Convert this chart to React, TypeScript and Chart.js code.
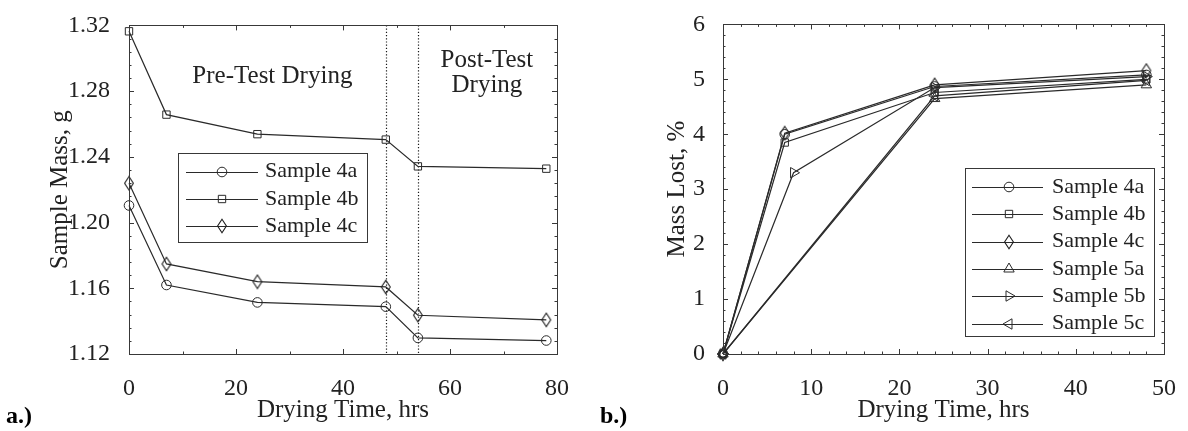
import React, { useEffect, useRef } from 'react';
import { Chart, registerables } from 'chart.js';
import { drawPoint } from 'chart.js/helpers';

Chart.register(...registerables);

const FONT = "'Liberation Serif', 'Times New Roman', serif";
const INK = '#222222';
const LINE = '#2a2a2a';
const FRAME = '#383838';

// ---------- Panel a: sample mass ----------
const timeA = [0, 7, 24, 48, 54, 78];
const mass4a = [1.2104, 1.162, 1.1514, 1.1488, 1.1298, 1.1282];
const mass4b = [1.3164, 1.2657, 1.2538, 1.2505, 1.2342, 1.2328];
const mass4c = [1.2239, 1.1748, 1.164, 1.1608, 1.1436, 1.1408];
const xTicksA = [0, 20, 40, 60, 80];
const yTicksA = [1.12, 1.16, 1.2, 1.24, 1.28, 1.32];
const dividerTimes = [48, 54];

// ---------- Panel b: mass lost ----------
const time4 = [0, 7, 24, 48];
const lost4a = [0, 4.0, 4.87, 5.08];
const lost4b = [0, 3.85, 4.76, 5.0];
const lost4c = [0, 4.02, 4.9, 5.16];
const time5a = [0, 24, 48];
const lost5a = [0, 4.65, 4.9];
const time5b = [0, 8, 24, 48];
const lost5b = [0, 3.3, 4.85, 5.05];
const time5c = [0, 24, 48];
const lost5c = [0, 4.7, 4.98];
const xTicksB = [0, 10, 20, 30, 40, 50];
const yTicksB = [0, 1, 2, 3, 4, 5, 6];

const pts = (xs: number[], ys: number[]) => xs.map((x, i) => ({ x, y: ys[i] }));

// tall, narrow open diamond marker (MATLAB-like)
function makeDiamond(): HTMLCanvasElement {
  const c = document.createElement('canvas');
  c.width = 12;
  c.height = 16;
  const g = c.getContext('2d')!;
  g.strokeStyle = '#1e1e1e';
  g.lineWidth = 1.1;
  g.beginPath();
  g.moveTo(6, 1.3);
  g.lineTo(10.4, 8);
  g.lineTo(6, 14.7);
  g.lineTo(1.6, 8);
  g.closePath();
  g.stroke();
  return c;
}

function ds(label: string, xs: number[], ys: number[], pointStyle: any, radius: number, rotation = 0) {
  return {
    label,
    data: pts(xs, ys),
    borderColor: LINE,
    borderWidth: 1.2,
    pointStyle,
    pointRotation: rotation,
    pointRadius: radius,
    pointBorderWidth: 1,
    pointBorderColor: LINE,
    pointBackgroundColor: 'rgba(0,0,0,0)',
    fill: false,
    tension: 0,
    clip: false as any,
  };
}

type Ann = { text: string; x: number; y: number };

interface FrameCfg {
  xMinor: number;
  yMinor: number;
  dividers?: number[];
  anns?: Ann[];
  legend: { left: number; top: number; width: number; height: number; firstRow: number; rowGap: number; lx0: number; lx1: number; mx: number; tx: number };
  panel: string;
}

function framePlugin(cfg: FrameCfg) {
  return {
    id: 'frame',
    beforeDatasetsDraw(chart: any) {
      const { ctx, chartArea: a, scales } = chart;
      if (cfg.dividers) {
        ctx.save();
        ctx.strokeStyle = '#1a1a1a';
        ctx.lineWidth = 1.2;
        ctx.setLineDash([1.2, 2]);
        for (const d of cfg.dividers) {
          const px = Math.round(scales.x.getPixelForValue(d)) + 0.5;
          ctx.beginPath();
          ctx.moveTo(px, a.top);
          ctx.lineTo(px, a.bottom);
          ctx.stroke();
        }
        ctx.restore();
      }
    },
    afterDraw(chart: any) {
      const { ctx, chartArea: a, scales } = chart;
      const xs = scales.x, ys = scales.y;
      ctx.save();
      ctx.strokeStyle = FRAME;
      ctx.lineWidth = 1;
      ctx.strokeRect(Math.round(a.left) + 0.5, Math.round(a.top) + 0.5, Math.round(a.right - a.left), Math.round(a.bottom - a.top));
      const tick = (v: number, len: number, horiz: boolean) => {
        if (horiz) {
          const p = Math.round(xs.getPixelForValue(v)) + 0.5;
          ctx.beginPath();
          ctx.moveTo(p, a.bottom); ctx.lineTo(p, a.bottom - len);
          ctx.moveTo(p, a.top); ctx.lineTo(p, a.top + len);
          ctx.stroke();
        } else {
          const p = Math.round(ys.getPixelForValue(v)) + 0.5;
          ctx.beginPath();
          ctx.moveTo(a.left, p); ctx.lineTo(a.left + len, p);
          ctx.moveTo(a.right, p); ctx.lineTo(a.right - len, p);
          ctx.stroke();
        }
      };
      const nx = Math.round((xs.max - xs.min) / cfg.xMinor);
      for (let i = 0; i <= nx; i++) tick(xs.min + i * cfg.xMinor, 2.5, true);
      const ny = Math.round((ys.max - ys.min) / cfg.yMinor);
      for (let i = 0; i <= ny; i++) tick(ys.min + i * cfg.yMinor, 2.5, false);
      xs.ticks.forEach((t: any) => tick(t.value, 5, true));
      ys.ticks.forEach((t: any) => tick(t.value, 5, false));

      ctx.fillStyle = INK;
      ctx.font = `25px ${FONT}`;
      ctx.textAlign = 'center';
      ctx.textBaseline = 'middle';
      (cfg.anns || []).forEach((n) => {
        ctx.fillText(n.text, xs.getPixelForValue(n.x), ys.getPixelForValue(n.y));
      });

      const L = cfg.legend;
      ctx.fillStyle = '#fff';
      ctx.fillRect(L.left, L.top, L.width, L.height);
      ctx.strokeStyle = FRAME;
      ctx.strokeRect(L.left + 0.5, L.top + 0.5, L.width, L.height);
      chart.data.datasets.forEach((d: any, i: number) => {
        const y = L.firstRow + i * L.rowGap;
        const yy = Math.round(y) + 0.5;
        ctx.strokeStyle = LINE;
        ctx.lineWidth = 1.2;
        ctx.beginPath();
        ctx.moveTo(L.lx0, yy);
        ctx.lineTo(L.lx1, yy);
        ctx.stroke();
        ctx.lineWidth = 1;
        ctx.fillStyle = 'rgba(0,0,0,0)';
        drawPoint(ctx, { pointStyle: d.pointStyle, rotation: d.pointRotation, radius: d.pointRadius, borderWidth: 1 } as any, L.mx, Math.round(y));
        ctx.fillStyle = INK;
        ctx.font = `22px ${FONT}`;
        ctx.textAlign = 'left';
        ctx.textBaseline = 'middle';
        ctx.fillText(d.label, L.tx, y);
      });

      ctx.fillStyle = '#000';
      ctx.font = `bold 24px ${FONT}`;
      ctx.textAlign = 'left';
      ctx.textBaseline = 'alphabetic';
      ctx.fillText(cfg.panel, 6, 423);
      ctx.restore();
    },
  };
}

function scaleOpts(opts: {
  min: number; max: number; ticks: number[]; fmt: (v: number) => string; title: string;
  horiz: boolean; size: number; titlePad: any; tickPad: number;
}) {
  return {
    type: 'linear' as const,
    min: opts.min,
    max: opts.max,
    afterBuildTicks: (s: any) => { s.ticks = opts.ticks.map((v) => ({ value: v })); },
    afterFit: (s: any) => { if (opts.horiz) s.height = opts.size; else s.width = opts.size; },
    grid: { display: false },
    border: { display: false },
    ticks: {
      font: { family: FONT, size: 24 },
      color: INK,
      padding: opts.tickPad,
      maxRotation: 0,
      autoSkip: false,
      callback: (v: any) => opts.fmt(Number(v)),
    },
    title: {
      display: true,
      text: opts.title,
      color: INK,
      font: { family: FONT, size: 25 },
      padding: opts.titlePad,
    },
  };
}

function configA(diamond: HTMLCanvasElement): any {
  return {
    type: 'line',
    data: {
      datasets: [
        ds('Sample 4a', timeA, mass4a, 'circle', 4.8),
        ds('Sample 4b', timeA, mass4b, 'rect', 5.2),
        ds('Sample 4c', timeA, mass4c, diamond, 6),
      ],
    },
    options: {
      responsive: false,
      animation: false,
      events: [],
      layout: { padding: { top: 17, right: 37, left: 0, bottom: 0 } },
      plugins: { legend: { display: false }, tooltip: { enabled: false } },
      scales: {
        x: scaleOpts({ min: 0, max: 80, ticks: xTicksA, fmt: (v) => String(v), title: 'Drying Time, hrs', horiz: true, size: 77, titlePad: { top: 0, bottom: 6 }, tickPad: 12 }),
        y: scaleOpts({ min: 1.12, max: 1.32, ticks: yTicksA, fmt: (v) => v.toFixed(2), title: 'Sample Mass, g', horiz: false, size: 129, titlePad: { top: 45, bottom: 0 }, tickPad: 11 }),
      },
    },
    plugins: [
      framePlugin({
        xMinor: 10,
        yMinor: 0.008,
        dividers: dividerTimes,
        anns: [
          { text: 'Pre-Test Drying', x: 26.8, y: 1.2892 },
          { text: 'Post-Test', x: 66.9, y: 1.2987 },
          { text: 'Drying', x: 66.9, y: 1.2836 },
        ],
        legend: { left: 178, top: 153, width: 189, height: 89, firstRow: 171.5, rowGap: 27.3, lx0: 186, lx1: 258, mx: 222, tx: 265 },
        panel: 'a.)',
      }),
    ],
  };
}

function configB(diamond: HTMLCanvasElement): any {
  return {
    type: 'line',
    data: {
      datasets: [
        ds('Sample 4a', time4, lost4a, 'circle', 4.8),
        ds('Sample 4b', time4, lost4b, 'rect', 5.2),
        ds('Sample 4c', time4, lost4c, diamond, 6),
        ds('Sample 5a', time5a, lost5a, 'triangle', 6),
        ds('Sample 5b', time5b, lost5b, 'triangle', 6, 90),
        ds('Sample 5c', time5c, lost5c, 'triangle', 6, -90),
      ],
    },
    options: {
      responsive: false,
      animation: false,
      events: [],
      layout: { padding: { top: 17, right: 17, left: 0, bottom: 0 } },
      plugins: { legend: { display: false }, tooltip: { enabled: false } },
      scales: {
        x: scaleOpts({ min: 0, max: 50, ticks: xTicksB, fmt: (v) => String(v), title: 'Drying Time, hrs', horiz: true, size: 77, titlePad: { top: 0, bottom: 6 }, tickPad: 12 }),
        y: scaleOpts({ min: 0, max: 6, ticks: yTicksB, fmt: (v) => String(v), title: 'Mass Lost, %', horiz: false, size: 129, titlePad: { top: 68, bottom: 0 }, tickPad: 10 }),
      },
    },
    plugins: [
      framePlugin({
        xMinor: 2,
        yMinor: 0.2,
        legend: { left: 371, top: 168, width: 189, height: 168, firstRow: 187, rowGap: 27.3, lx0: 378, lx1: 449, mx: 415, tx: 458 },
        panel: 'b.)',
      }),
    ],
  };
}

function Panel({ make, left }: { make: (d: HTMLCanvasElement) => any; left: number }) {
  const ref = useRef<HTMLCanvasElement>(null);
  useEffect(() => {
    const chart = new Chart(ref.current as HTMLCanvasElement, make(makeDiamond()));
    return () => chart.destroy();
  }, []);
  return (
    <div style={{ position: 'absolute', left, top: 0, width: 594, height: 431 }}>
      <canvas ref={ref} width={594} height={431} style={{ display: 'block' }} />
    </div>
  );
}

export default function App() {
  return (
    <div style={{ position: 'fixed', left: 0, top: 0, width: 1188, height: 431, background: '#fff' }}>
      <Panel make={configA} left={0} />
      <Panel make={configB} left={594} />
    </div>
  );
}
